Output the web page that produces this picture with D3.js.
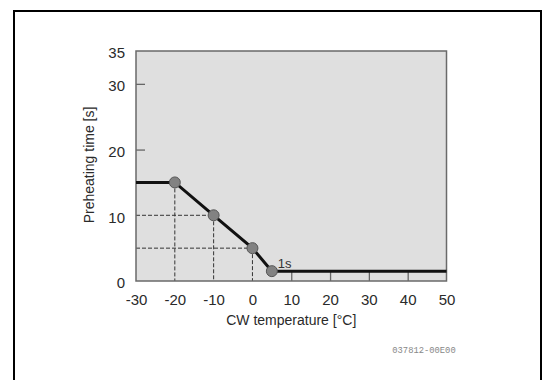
<!DOCTYPE html>
<html>
<head>
<meta charset="utf-8">
<script src="https://cdn.jsdelivr.net/npm/d3@7"></script>
<style>
  body { margin: 0; background: #fff; }
  text { font-family: "Liberation Sans", Arial, sans-serif; }
</style>
</head>
<body>
<div id="chart"></div>
<script>
// curve data (CW temperature -> preheating time)
const temps = [-30, -20, -10, 0, 5, 50];
const times = [15, 15, 10, 5, 1.5, 1.5];
// points with a marker
const markTemps = [-20, -10, 0, 5];
const markTimes = [15, 10, 5, 1.5];
// tick labels
const xTicks = [-30, -20, -10, 0, 10, 20, 30, 40, 50];
const yTicks = [0, 10, 20, 30, 35];

const W = 547, H = 380;
let margin = {top: 51, right: 100.5, bottom: 99, left: 136};
let width = W - margin.left - margin.right,
    height = H - margin.top - margin.bottom;

const svg = d3.select("#chart")
  .append("svg")
    .attr("width", W)
    .attr("height", H);

// outer black frame
svg.append("rect")
    .attr("x", 14).attr("y", 11)
    .attr("width", 527).attr("height", 400)
    .attr("fill", "none")
    .attr("stroke", "#000")
    .attr("stroke-width", 2);

const g = svg.append("g")
    .attr("transform", "translate(" + margin.left + "," + margin.top + ")");

let x = d3.scaleLinear().domain([-30, 50]).range([0, width]);
let y = d3.scaleLinear().domain([0, 35]).range([height, 0]);

// plot background
g.append("rect")
    .attr("width", width).attr("height", height)
    .attr("fill", "#dfdfdf");

// x axis, ticks pointing inward, plain hyphen for negatives
const xAxis = g.append("g")
    .attr("transform", "translate(0," + height + ")")
    .call(d3.axisBottom(x).tickValues(xTicks).tickSize(-9).tickPadding(13)
            .tickFormat(function(d) { return String(d); }));
xAxis.select(".domain").remove();
xAxis.selectAll(".tick line")
    .attr("stroke", "#666")
    .attr("stroke-width", 1.3)
    .style("display", d => (d > 5 && d < 50) ? null : "none");
xAxis.selectAll(".tick text")
    .attr("fill", "#2a2a2a")
    .style("font-size", "15px");

// y axis
const yAxis = g.append("g")
    .call(d3.axisLeft(y).tickValues(yTicks).tickSize(-9).tickPadding(11));
yAxis.select(".domain").remove();
yAxis.selectAll(".tick line")
    .attr("stroke", "#666")
    .attr("stroke-width", 1.3)
    .style("display", d => (d == 20 || d == 30) ? null : "none");
yAxis.selectAll(".tick text")
    .attr("fill", "#2a2a2a")
    .attr("dy", "0.45em")
    .style("font-size", "15px");

// dashed guide lines
const guides = g.append("g")
    .attr("stroke", "#333")
    .attr("stroke-width", 1)
    .attr("stroke-dasharray", "4,2")
    .attr("fill", "none");
markTemps.forEach(function(t, i) {
  if (t > 0) return;
  guides.append("line")
      .attr("x1", x(t)).attr("x2", x(t))
      .attr("y1", y(markTimes[i])).attr("y2", y(0));
  if (markTimes[i] < 15) {
    guides.append("line")
        .attr("x1", x(-30)).attr("x2", x(t))
        .attr("y1", y(markTimes[i])).attr("y2", y(markTimes[i]));
  }
});

// plot frame
g.append("rect")
    .attr("width", width).attr("height", height)
    .attr("fill", "none")
    .attr("stroke", "#6a6a6a")
    .attr("stroke-width", 1.5);

// the curve
const line = d3.line()
    .x(function(d, i) { return x(temps[i]); })
    .y(function(d, i) { return y(times[i]); });
g.append("path")
    .datum(times)
    .attr("d", line)
    .attr("fill", "none")
    .attr("stroke", "#111")
    .attr("stroke-width", 3);

// markers
g.selectAll("circle")
    .data(markTemps)
    .enter()
    .append("circle")
      .attr("cx", function(d) { return x(d); })
      .attr("cy", function(d, i) { return y(markTimes[i]); })
      .attr("r", 5.5)
      .attr("fill", "#828282")
      .attr("stroke", "#555")
      .attr("stroke-width", 1);

// "1s" label
g.append("text")
    .attr("x", x(5) + 6)
    .attr("y", y(1.5) - 3)
    .attr("fill", "#333")
    .style("font-size", "13px")
    .text("1s");

// axis titles
g.append("text")
    .attr("x", width / 2)
    .attr("y", height + 44)
    .attr("text-anchor", "middle")
    .attr("fill", "#2a2a2a")
    .style("font-size", "14px")
    .text("CW temperature [°C]");

g.append("text")
    .attr("transform", "translate(" + (-42) + "," + (114) + ")rotate(-90)")
    .attr("text-anchor", "middle")
    .attr("fill", "#2a2a2a")
    .style("font-size", "14px")
    .text("Preheating time [s]");

// drawing number
svg.append("text")
    .attr("x", 424)
    .attr("y", 353)
    .attr("text-anchor", "middle")
    .attr("fill", "#888")
    .style("font-family", "'Liberation Mono', monospace")
    .style("font-size", "8.8px")
    .text("037812-00E00");
</script>
</body>
</html>
